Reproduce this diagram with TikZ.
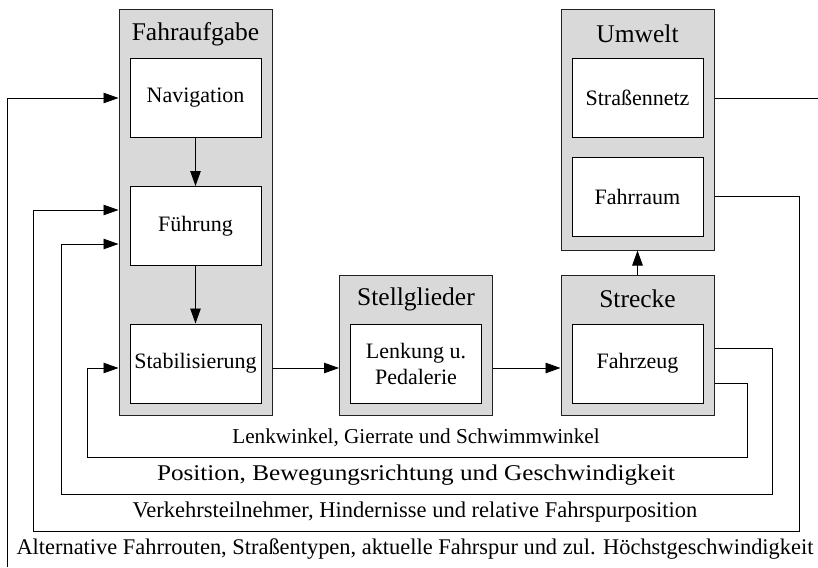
\documentclass[tikz,border=0pt]{standalone}
\usepackage{fontspec}
\setmainfont{Liberation Serif}
\newfontfamily\widefont[FakeStretch=1.12]{Liberation Serif}
\usepackage{tikz}
\usetikzlibrary{arrows.meta,positioning,calc}
\definecolor{boxgray}{HTML}{D9D9D9}
\definecolor{linegray}{HTML}{222222}

\begin{document}
\begin{tikzpicture}[
  x=1pt,y=-1pt,
  outer/.style={draw=linegray,fill=boxgray,line width=1pt,minimum width=153pt,inner sep=0pt},
  inner/.style={draw=black,fill=white,line width=1pt,minimum width=131pt,minimum height=79pt,align=center,font=\fontsize{22}{26}\selectfont},
  title/.style={font=\fontsize{25.5}{30}\selectfont,inner sep=0pt},
  lbl/.style={font=\fontsize{#1}{25}\selectfont,inner sep=0pt},
  lbl/.default=21.2,
  arr/.style={-{Triangle[length=15pt,width=10.5pt]},line width=.9pt},
  ln/.style={line width=.9pt}
]
\useasboundingbox (0,0) rectangle (818,567);
% outer blocks
\node[outer,minimum height=405pt] (aufgabe) at (195.5,212.5) {};
\node[outer,minimum height=240pt] (umwelt) at (637.5,130) {};
\node[outer,minimum height=140pt] (stell) at (416,345) {};
\node[outer,minimum height=140pt] (strecke) at (637.5,345) {};
\node[title] (taufgabe) at (195.5,34) {Fahraufgabe};
\node[title] (tumwelt) at (637.5,34) {Umwelt};
\node[title] (tstell) at (416,299) {Stellglieder};
\node[title] (tstrecke) at (637.5,299) {Strecke};
% inner blocks
\node[inner] (nav) at (195.5,98) {Navigation};
\node[inner] (fuehr) at (195.5,226) {Führung};
\node[inner] (stab) at (195.5,363.5) {Stabilisierung};
\node[inner] (lenk) at (416,363.5) {Lenkung u.\\Pedalerie};
\node[inner] (fzg) at (637.5,363.5) {Fahrzeug};
\node[inner] (netz) at (637.5,98) {Straßennetz};
\node[inner] (raum) at (637.5,196.5) {Fahrraum};
% labels of the loops
\node[lbl] (lwinkel) at (416,438) {Lenkwinkel, Gierrate und Schwimmwinkel};
\node[lbl=22.5] (lpos) at (416,475) {\widefont Position, Bewegungsrichtung und Geschwindigkeit};
\node[lbl=22.5] (lverk) at (415,512) {Verkehrsteilnehmer, Hindernisse und relative Fahrspurposition};
\node[lbl=22.4] (lalt) at (415,549) {Alternative Fahrrouten, Straßentypen, aktuelle Fahrspur und zul. Höchstgeschwindigkeit};
\coordinate (altin) at (7,567);
\coordinate (netzout) at (818,98);
% forward path
\draw[arr] (nav) -- (fuehr);
\draw[arr] (fuehr) -- (stab);
\draw[arr] (aufgabe.east |- 0,368) -- (stell.west |- 0,368);
\draw[arr] (stell.east |- 0,368) -- (strecke.west |- 0,368);
\draw[arr] (strecke) -- (umwelt);
% feedback
\draw[ln] (umwelt.east |- netz) -- (netzout);
\draw[arr] (altin) -- (7,98) -- (aufgabe.west |- nav);
\draw[arr] (umwelt.east |- raum) -| (799,531) -| (33,210) -- (aufgabe.west |- 0,210);
\draw[arr] (strecke.east |- 0,348) -| (772,494) -| (61,244) -- (aufgabe.west |- 0,244);
\draw[arr] (strecke.east |- 0,383) -| (747,457) -| (87,368) -- (aufgabe.west |- 0,368);
\end{tikzpicture}
\end{document}
